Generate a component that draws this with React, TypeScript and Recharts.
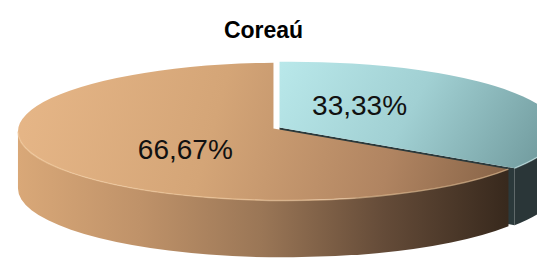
import React from 'react';
import { PieChart, Pie, Cell } from 'recharts';

const TITLE = 'Coreaú';
const categories = ['Categoria B', 'Categoria A'];
const values = [33.33, 66.67];
const data = categories.map((name, i) => ({ name, value: values[i] }));

const FLAT = ['#a9d9dc', '#c49a6c'];
const TOP_STOPS: [string, string][][] = [
  [['0', '#b9e8ea'], ['0.5', '#a1d0d3'], ['1', '#729c9f']],
  [['0', '#e7b788'], ['0.4', '#d4a577'], ['0.75', '#b08461'], ['1', '#846145']],
];
const SIDE_STOPS: [string, string][][] = [
  [['0', '#34464a'], ['1', '#2a3638']],
  [['0', '#d9a878'], ['0.25', '#bf9269'], ['0.5', '#9a7656'], ['0.75', '#644b38'], ['1', '#38291d']],
];
const CUT = ['#2b393b', '#4a3626'];
const RIM = ['rgba(200,235,237,0.55)', 'rgba(240,200,155,0.6)'];

// projection of the pie disc (ellipse centre offset from the apex, flattening, thickness)
const PROJ = { ex: 11.5, ey: 3, k: 0.258, dirK: 0.3, depth: 57 };
const EXPLODE = 3.5;
const RAD = Math.PI / 180;

type P = [number, number];

function rimPoint(ax: number, ay: number, ecx: number, ecy: number, rx: number, ry: number, deg: number): P {
  const dx = Math.cos(deg * RAD);
  const dy = -PROJ.dirK * Math.sin(deg * RAD);
  const ux = ax - ecx;
  const uy = ay - ecy;
  const a = (dx * dx) / (rx * rx) + (dy * dy) / (ry * ry);
  const b = 2 * ((ux * dx) / (rx * rx) + (uy * dy) / (ry * ry));
  const c = (ux * ux) / (rx * rx) + (uy * uy) / (ry * ry) - 1;
  const t = (-b + Math.sqrt(b * b - 4 * a * c)) / (2 * a);
  return [ax + t * dx, ay + t * dy];
}

function phiOf(p: P, ecx: number, ecy: number, rx: number, ry: number) {
  return Math.atan2(-(p[1] - ecy) / ry, (p[0] - ecx) / rx) / RAD;
}

const ellPt = (ecx: number, ecy: number, rx: number, ry: number, phi: number): P => [
  ecx + rx * Math.cos(phi * RAD),
  ecy - ry * Math.sin(phi * RAD),
];

function geometry(cx: number, cy: number, R: number, midAngle: number) {
  const ax = cx + EXPLODE * Math.cos(midAngle * RAD);
  const ay = cy - EXPLODE * PROJ.k * Math.sin(midAngle * RAD);
  return { ax, ay, ecx: ax + PROJ.ex, ecy: ay + PROJ.ey, rx: R, ry: R * PROJ.k };
}

const renderSlice = (props: any) => {
  const { cx, cy, outerRadius, startAngle, endAngle, midAngle, payload } = props;
  const idx = Math.max(0, categories.indexOf(payload?.name ?? payload?.payload?.name));
  const s = Math.max(startAngle, endAngle);
  const e = Math.min(startAngle, endAngle);
  const m = midAngle ?? (s + e) / 2;
  const { ax, ay, ecx, ecy, rx, ry } = geometry(cx, cy, outerRadius, m);
  const D = PROJ.depth;

  const ps = rimPoint(ax, ay, ecx, ecy, rx, ry, s);
  const pe = rimPoint(ax, ay, ecx, ecy, rx, ry, e);
  let phs = phiOf(ps, ecx, ecy, rx, ry);
  let phe = phiOf(pe, ecx, ecy, rx, ry);
  let span = phs - phe;
  while (span <= 0) span += 360;
  if (s - e >= 359.99) span = 360;
  phe = phs - span;
  const large = span > 180 ? 1 : 0;
  const top = `M${ax},${ay} L${ps[0]},${ps[1]} A${rx},${ry} 0 ${large} 1 ${pe[0]},${pe[1]} Z`;

  const sides: string[] = [];
  const rims: string[] = [];
  for (const k of [-360, 0, 360]) {
    const hi = Math.min(phs, k);
    const lo = Math.max(phe, k - 180);
    if (hi > lo) {
      const A = ellPt(ecx, ecy, rx, ry, hi);
      const B = ellPt(ecx, ecy, rx, ry, lo);
      sides.push(
        `M${A[0]},${A[1]} A${rx},${ry} 0 0 1 ${B[0]},${B[1]} L${B[0]},${B[1] + D} A${rx},${ry} 0 0 0 ${A[0]},${A[1] + D} Z`
      );
      rims.push(`M${A[0]},${A[1]} A${rx},${ry} 0 0 1 ${B[0]},${B[1]}`);
    }
  }
  const cuts: string[] = [];
  const cutFace = (p: P) =>
    `M${ax},${ay} L${p[0]},${p[1]} L${p[0]},${p[1] + D} L${ax},${ay + D} Z`;
  if (Math.cos(e * RAD) > 0.01) cuts.push(cutFace(pe));
  if (Math.cos(s * RAD) < -0.01) cuts.push(cutFace(ps));

  const topId = `top-${idx}`;
  const sideId = `side-${idx}`;
  return (
    <g>
      <defs>
        <linearGradient
          id={topId}
          gradientUnits="userSpaceOnUse"
          x1={idx === 0 ? ax : ecx - rx}
          y1={ecy - ry}
          x2={ecx + rx * 0.85}
          y2={ecy + ry}
        >
          {TOP_STOPS[idx].map(([o, c]) => (
            <stop key={o} offset={o} stopColor={c} />
          ))}
        </linearGradient>
        <linearGradient id={sideId} gradientUnits="userSpaceOnUse" x1={ecx - rx} y1={0} x2={ecx + rx * 0.83} y2={0}>
          {SIDE_STOPS[idx].map(([o, c]) => (
            <stop key={o} offset={o} stopColor={c} />
          ))}
        </linearGradient>
      </defs>
      {cuts.map((d, i) => (
        <path key={`c${i}`} d={d} fill={CUT[idx]} stroke="none" />
      ))}
      {sides.map((d, i) => (
        <path key={`s${i}`} d={d} fill={`url(#${sideId})`} stroke="none" />
      ))}
      <path d={top} fill={`url(#${topId})`} stroke="none" />
      {rims.map((d, i) => (
        <path key={`r${i}`} d={d} fill="none" stroke={RIM[idx]} strokeWidth={1.5} />
      ))}
    </g>
  );
};

const renderLabel = (p: any) => {
  const { cx, cy, midAngle, outerRadius, percent } = p;
  const { ax, ay, ecx, ecy, rx, ry } = geometry(cx, cy, outerRadius, midAngle);
  const rim = rimPoint(ax, ay, ecx, ecy, rx, ry, midAngle);
  const x = ax + 0.38 * (rim[0] - ax) - 5;
  const y = ay + 0.56 * (rim[1] - ay);
  return (
    <text
      x={x}
      y={y}
      textAnchor="middle"
      dominantBaseline="central"
      fontSize={28}
      fontFamily="'Liberation Sans', Arial, sans-serif"
      fill="#111"
    >
      {(percent * 100).toFixed(2).replace('.', ',')}%
    </text>
  );
};

export default function App() {
  return (
    <div style={{ position: 'absolute', left: 0, top: 0, width: 537, height: 261, background: '#fff', overflow: 'hidden' }}>
      <PieChart width={537} height={261} margin={{ top: 0, right: 0, bottom: 0, left: 0 }}>
        <Pie
          data={data}
          dataKey="value"
          nameKey="name"
          cx={276.5}
          cy={128}
          outerRadius={267}
          startAngle={90}
          endAngle={-270}
          stroke="none"
          isAnimationActive={false}
          shape={renderSlice}
          label={renderLabel}
          labelLine={false}
        >
          {data.map((d, i) => (
            <Cell key={d.name} fill={FLAT[i]} />
          ))}
        </Pie>
      </PieChart>
      <div
        style={{
          position: 'absolute',
          left: 0,
          top: 17,
          width: 527,
          textAlign: 'center',
          fontFamily: "'Liberation Sans', Arial, sans-serif",
          fontWeight: 'bold',
          fontSize: 23,
          lineHeight: '26px',
          color: '#000',
        }}
      >
        {TITLE}
      </div>
    </div>
  );
}
